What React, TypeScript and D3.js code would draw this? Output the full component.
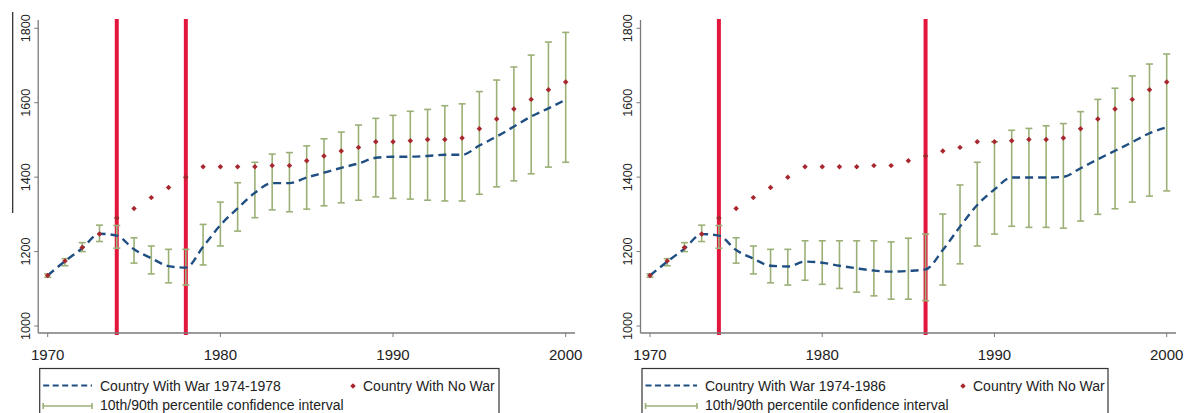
import React from 'react';
import * as d3 from 'd3';

// years on the x axis
const years = [
  1970, 1971, 1972, 1973, 1974, 1975, 1976, 1977, 1978, 1979,
  1980, 1981, 1982, 1983, 1984, 1985, 1986, 1987, 1988, 1989,
  1990, 1991, 1992, 1993, 1994, 1995, 1996, 1997, 1998, 1999, 2000,
];

// counterfactual, same in both panels
const noWar = [
  1136, 1175, 1211, 1247, 1290, 1316, 1345, 1372, 1400, 1428,
  1428, 1428, 1428, 1431, 1431, 1444, 1457, 1470, 1480, 1495,
  1495, 1498, 1501, 1501, 1505, 1530, 1556, 1583, 1609, 1635, 1656,
];

// left panel: war 1974-1978
const warShort = [
  1136, 1174, 1209, 1248, 1243, 1206, 1182, 1161, 1157, 1213,
  1271, 1316, 1358, 1384, 1384, 1399, 1412, 1425, 1437, 1452,
  1455, 1455, 1457, 1460, 1460, 1485, 1509, 1536, 1563, 1585, 1608,
];
const ciShortLo = [
  1131, 1162, 1200, 1227, 1209, 1169, 1140, 1116, 1110, 1164,
  1215, 1255, 1291, 1312, 1307, 1314, 1323, 1331, 1338, 1347,
  1343, 1341, 1338, 1336, 1336, 1354, 1374, 1390, 1409, 1427, 1440,
];
const ciShortHi = [
  1140, 1181, 1224, 1271, 1270, 1237, 1215, 1206, 1206, 1273,
  1333, 1385, 1440, 1462, 1466, 1484, 1503, 1521, 1540, 1558,
  1566, 1577, 1582, 1592, 1597, 1630, 1661, 1696, 1728, 1763, 1789,
];

// right panel: war 1974-1986
const warLong = [
  1136, 1173, 1208, 1247, 1243, 1204, 1181, 1162, 1160, 1173,
  1170, 1162, 1155, 1149, 1146, 1148, 1152, 1204, 1267, 1325,
  1367, 1399, 1399, 1399, 1401, 1424, 1448, 1471, 1494, 1518, 1534,
];
const ciLongLo = [
  1131, 1162, 1200, 1227, 1209, 1169, 1140, 1116, 1110, 1123,
  1112, 1101, 1091, 1081, 1072, 1072, 1068, 1110, 1167, 1215,
  1247, 1268, 1265, 1265, 1263, 1282, 1300, 1315, 1333, 1349, 1363,
];
const ciLongHi = [
  1140, 1181, 1224, 1271, 1270, 1237, 1215, 1206, 1206, 1229,
  1229, 1229, 1229, 1229, 1226, 1236, 1247, 1301, 1379, 1440,
  1495, 1526, 1531, 1538, 1544, 1576, 1609, 1639, 1672, 1704, 1731,
];

const yTicks = [1000, 1200, 1400, 1600, 1800];
const xTicks = [1970, 1980, 1990, 2000];

const RED = '#e3173e';
const DOT = '#a8262e';
const NAVY = '#1f4f82';
const GREEN = '#9bb076';
const AXIS = '#7a7a7a';
const FONT = 'Liberation Sans, Arial, sans-serif';

const y = d3.scaleLinear().domain([1000, 1800]).range([326, 28.3]);

const Panel = ({ left, right, axisEnd, warYears, war, lo, hi, label, legendRight, textX, dotX }) => {
  const x = d3.scaleLinear().domain([1970, 2000]).range([left, right]);
  const axisX = left - 9.5;
  const line = d3.line<number>()
    .x((_, i) => x(years[i]))
    .y(d => y(d))
    .curve(d3.curveMonotoneX);
  // square turned 45 degrees, like Stata's diamond
  const marker = d3.symbol(d3.symbolSquare, 15)();

  return (
    <g>
      {/* war markers */}
      {warYears.map(w => (
        <line key={w} x1={x(w)} x2={x(w)} y1={19} y2={335} stroke={RED} strokeWidth={4} />
      ))}

      {/* axes */}
      <line x1={axisX} x2={axisX} y1={20} y2={333} stroke={AXIS} strokeWidth={1.3} />
      <line x1={axisX} x2={axisEnd} y1={333} y2={333} stroke={AXIS} strokeWidth={1.3} />
      {yTicks.map(t => (
        <g key={t}>
          <line x1={axisX - 4} x2={axisX} y1={y(t)} y2={y(t)} stroke={AXIS} />
          <text transform={`translate(${axisX - 13},${y(t)}) rotate(-90)`} textAnchor="middle"
            dy="0.35em" fontSize={12.6} fill="#222" fontFamily={FONT}>{t}</text>
        </g>
      ))}
      {xTicks.map(t => (
        <g key={t}>
          <line x1={x(t)} x2={x(t)} y1={333} y2={337} stroke={AXIS} />
          <text x={x(t)} y={359.5} textAnchor="middle" fontSize={15} fill="#222" fontFamily={FONT}>{t}</text>
        </g>
      ))}

      {/* confidence intervals */}
      {years.map((yr, i) => (
        <g key={yr} stroke={GREEN} strokeWidth={1.6}>
          <line x1={x(yr)} x2={x(yr)} y1={y(lo[i])} y2={y(hi[i])} />
          <line x1={x(yr) - 3.5} x2={x(yr) + 3.5} y1={y(lo[i])} y2={y(lo[i])} />
          <line x1={x(yr) - 3.5} x2={x(yr) + 3.5} y1={y(hi[i])} y2={y(hi[i])} />
        </g>
      ))}

      <path d={line(war) ?? ''} fill="none" stroke={NAVY} strokeWidth={2.4} strokeDasharray="8,5" />

      {noWar.map((v, i) => (
        <path key={years[i]} d={marker ?? ''} transform={`translate(${x(years[i])},${y(v)}) rotate(45)`} fill={DOT} />
      ))}

      {/* legend */}
      <rect x={axisX + 1.5} y={368.5} width={legendRight - axisX - 1.5} height={60} fill="white" stroke="#333" strokeWidth={1.2} />
      <line x1={axisX + 5} x2={textX - 8} y1={385.5} y2={385.5} stroke={NAVY} strokeWidth={2} strokeDasharray="6,3.5" />
      <text x={textX} y={391} fontSize={14} fill="#222" fontFamily={FONT}>{label}</text>
      <path d={marker ?? ''} transform={`translate(${dotX},386) rotate(45)`} fill={DOT} />
      <text x={dotX + 10} y={391} fontSize={14} fill="#222" fontFamily={FONT}>Country With No War</text>
      <g stroke={GREEN} strokeWidth={1.6}>
        <line x1={axisX + 5} x2={textX - 8} y1={406} y2={406} />
        <line x1={axisX + 5} x2={axisX + 5} y1={403} y2={409} />
        <line x1={textX - 8} x2={textX - 8} y1={403} y2={409} />
      </g>
      <text x={textX} y={409.5} fontSize={14} fill="#222" fontFamily={FONT}>10th/90th percentile confidence interval</text>
    </g>
  );
};

export default function App() {
  return (
    <svg width={1188} height={413} style={{ position: 'absolute', left: 0, top: 0, background: 'white' }}>
      <rect width={1188} height={413} fill="white" />
      <line x1={12.7} x2={12.7} y1={12} y2={213} stroke="#222" strokeWidth={1.2} />
      <Panel left={47.7} right={565.7} axisEnd={575} warYears={[1974, 1978]}
        war={warShort} lo={ciShortLo} hi={ciShortHi} label="Country With War 1974-1978"
        legendRight={499} textX={100} dotX={353} />
      <Panel left={650} right={1166.7} axisEnd={1176} warYears={[1974, 1986]}
        war={warLong} lo={ciLongLo} hi={ciLongHi} label="Country With War 1974-1986"
        legendRight={1108} textX={705} dotX={963} />
    </svg>
  );
}
